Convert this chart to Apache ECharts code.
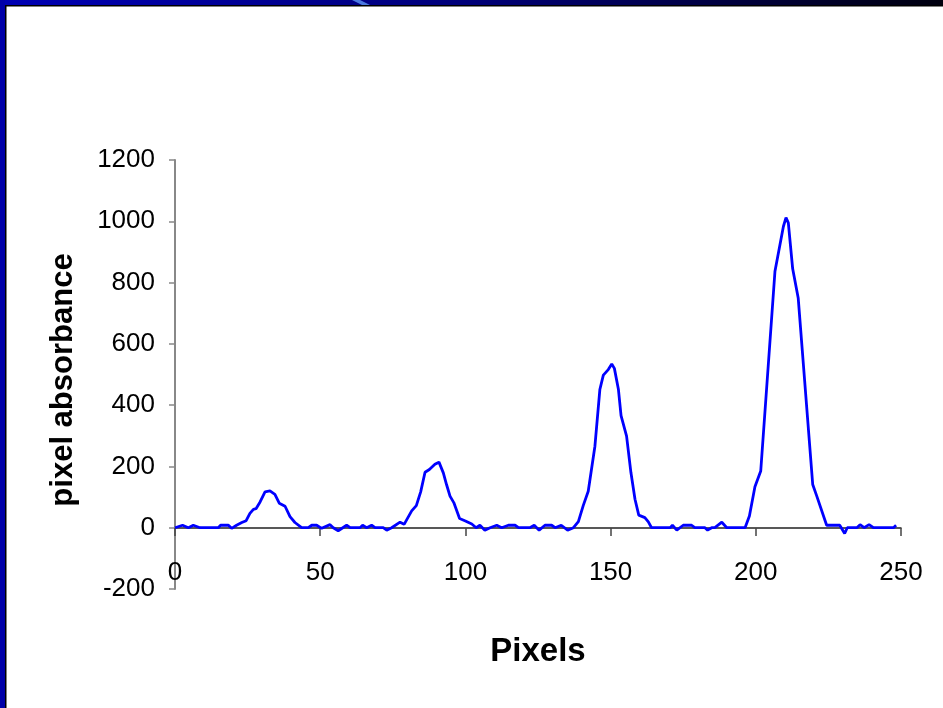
<!DOCTYPE html>
<html>
<head>
<meta charset="utf-8">
<script src="https://cdn.jsdelivr.net/npm/echarts@6/dist/echarts.min.js"></script>
<style>
html,body{margin:0;padding:0;background:#fff;}
#chart{width:943px;height:708px;}
</style>
</head>
<body>
<div id="chart"></div>
<script>
// Pixel position along the scan
const pixelX = [0,2.6,4.6,6.3,8.6,14.9,15.7,18.4,19.5,21.2,23,24.5,25.8,27,27.9,29.3,31,32.7,34.4,35.9,37.9,39.6,41.3,43.6,45.9,47.1,48.8,50.5,53.4,54.5,56.2,59.1,60.3,63.7,64.6,66,67.7,68.9,71.7,72.9,74.6,77.5,78.9,81.5,83.1,84.6,86.1,87.6,89.5,90.9,92.4,93.5,94.7,96,98,100,102.2,103.7,105,106.7,108.5,110.8,112.5,114.8,117.1,118.3,122.2,123.7,125.4,127.4,129.7,130.9,133,135.2,137.2,138.9,140.6,142.3,144.6,146.3,147.5,149.2,150.4,151.3,152.7,153.6,155.5,157,158.4,159.7,161.8,163,164.1,170.5,171.3,172.8,175,177.9,179,182.5,183.4,184.8,185.9,188.3,190,196.3,197.8,199.7,201.7,206.6,209.5,210.4,211.2,212.7,214.6,219.6,221,224.4,228.9,230.6,231.5,234.8,235.9,237.3,239,240.5,247.4,248.3];
// Pixel absorbance values
const absorbance = [0,8,0,8,0,0,8,8,-2,8,17,23,47,60,62,84,117,120,109,80,70,36,17,0,0,8,8,-2,10,0,-10,8,0,0,8,0,8,0,0,-8,0,18,11,55,72,117,181,190,207,214,179,141,103,82,30,22,12,0,8,-8,0,8,0,8,8,0,0,8,-8,8,8,0,8,-8,0,20,73,119,266,451,498,516,534,520,451,366,299,180,93,41,33,19,0,0,8,-8,8,8,0,0,-8,0,0,18,0,0,38,134,185,837,983,1012,995,845,750,141,103,8,8,-19,0,0,10,0,10,0,0,8];

const xTitle = 'Pixels';
const yTitle = 'pixel absorbance';

const seriesData = pixelX.map((x, i) => [x, absorbance[i]]);

const chart = echarts.init(document.getElementById('chart'));
const FONT = '"Liberation Sans", Arial, sans-serif';
const plain = v => String(v);

chart.setOption({
  animation: false,
  backgroundColor: '#ffffff',
  graphic: [
    { type: 'rect', shape: { x: 0, y: 0, width: 943, height: 5 },
      style: { fill: new echarts.graphic.LinearGradient(0, 0, 1, 0, [
        { offset: 0, color: '#0000b4' }, { offset: 0.5, color: '#000078' }, { offset: 1, color: '#00000e' }]) } },
    { type: 'rect', shape: { x: 0, y: 0, width: 5, height: 708 }, style: { fill: '#0000a8' } },
    { type: 'rect', shape: { x: 5, y: 5, width: 938, height: 1.5 }, style: { fill: '#000000' } },
    { type: 'rect', shape: { x: 5, y: 5, width: 1.5, height: 703 }, style: { fill: '#000000' } },
    { type: 'polygon', shape: { points: [[352, 0], [360, 0], [370, 5], [362, 5]] }, style: { fill: '#4a78e0' } }
  ],
  grid: { left: 175, right: 42, top: 160, bottom: 119, containLabel: false, outerBoundsMode: 'none' },
  xAxis: {
    type: 'value', min: 0, max: 250, interval: 50,
    position: 'bottom', offset: -61,
    name: xTitle, nameLocation: 'middle', nameGap: 107, nameMoveOverlap: false,
    nameTextStyle: { fontFamily: FONT, fontSize: 33, fontWeight: 'bold', color: '#000' },
    axisLine: { onZero: false, lineStyle: { color: '#222', width: 1.5 } },
    axisTick: { show: true, length: 8, lineStyle: { color: '#444', width: 1.5 } },
    axisLabel: { margin: 32, fontFamily: FONT, fontSize: 26, color: '#000', formatter: plain },
    splitLine: { show: false }
  },
  yAxis: {
    type: 'value', min: -200, max: 1200, interval: 200,
    name: yTitle, nameLocation: 'middle', nameGap: 96, nameRotate: 90,
    nameTextStyle: { fontFamily: FONT, fontSize: 31, fontWeight: 'bold', color: '#000', padding: [0, 11, 0, 0] },
    axisLine: { show: true, onZero: false, lineStyle: { color: '#888', width: 2 } },
    axisTick: { show: true, length: 6, lineStyle: { color: '#888', width: 1.5 } },
    axisLabel: { margin: 20, fontFamily: FONT, fontSize: 26, color: '#000', formatter: plain },
    splitLine: { show: false }
  },
  series: [{
    type: 'line',
    data: seriesData,
    showSymbol: false,
    symbol: 'none',
    lineStyle: { color: '#0000ff', width: 2.8 },
    z: 3
  }]
});
</script>
</body>
</html>
